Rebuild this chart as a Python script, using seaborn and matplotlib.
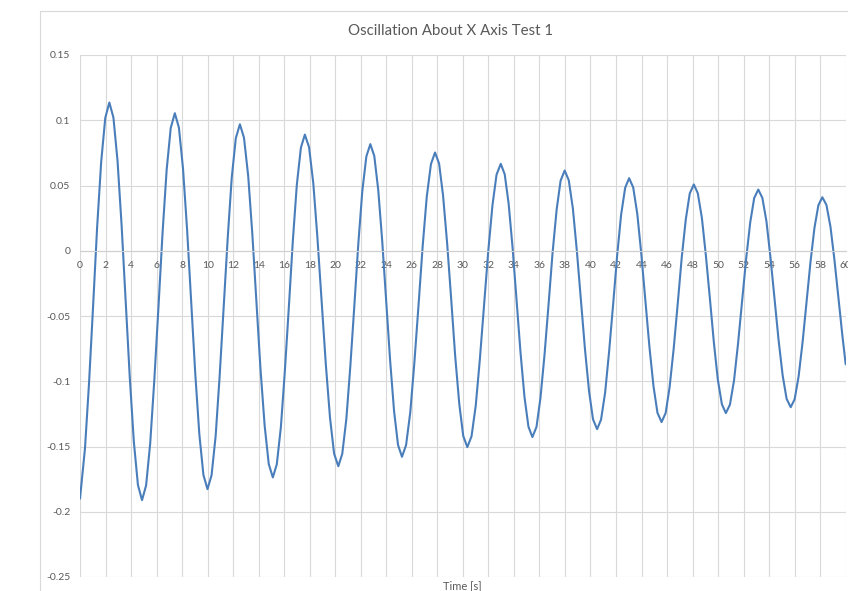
import matplotlib
matplotlib.use("Agg")
import matplotlib.pyplot as plt
import seaborn as sns
import pandas as pd
from matplotlib.lines import Line2D

# --- data (time in s, angle) ---
time_s = [
    0.00, 0.39, 0.71, 1.03, 1.34, 1.66, 1.98, 2.30,
    2.62, 2.94, 3.26, 3.58, 3.90, 4.22, 4.54, 4.86,
    5.18, 5.50, 5.82, 6.15, 6.47, 6.79, 7.11, 7.43,
    7.75, 8.07, 8.39, 8.71, 9.03, 9.35, 9.67, 9.99,
    10.31, 10.63, 10.94, 11.26, 11.58, 11.89, 12.21, 12.53,
    12.85, 13.18, 13.50, 13.82, 14.14, 14.47, 14.79, 15.11,
    15.42, 15.74, 16.05, 16.37, 16.68, 16.99, 17.31, 17.62,
    17.95, 18.28, 18.60, 18.93, 19.26, 19.59, 19.91, 20.24,
    20.55, 20.87, 21.18, 21.50, 21.81, 22.12, 22.44, 22.75,
    23.06, 23.37, 23.68, 23.99, 24.30, 24.61, 24.92, 25.23,
    25.55, 25.88, 26.20, 26.53, 26.85, 27.17, 27.50, 27.82,
    28.14, 28.45, 28.77, 29.09, 29.40, 29.72, 30.03, 30.35,
    30.68, 31.01, 31.33, 31.66, 31.99, 32.32, 32.64, 32.97,
    33.28, 33.59, 33.90, 34.21, 34.52, 34.83, 35.14, 35.45,
    35.77, 36.08, 36.40, 36.72, 37.03, 37.35, 37.66, 37.98,
    38.30, 38.62, 38.93, 39.25, 39.57, 39.89, 40.20, 40.52,
    40.83, 41.15, 41.46, 41.78, 42.09, 42.40, 42.72, 43.03,
    43.35, 43.67, 43.98, 44.30, 44.62, 44.94, 45.25, 45.57,
    45.89, 46.20, 46.52, 46.84, 47.15, 47.47, 47.78, 48.10,
    48.41, 48.73, 49.04, 49.36, 49.67, 49.98, 50.30, 50.61,
    50.93, 51.25, 51.56, 51.88, 52.20, 52.52, 52.83, 53.15,
    53.47, 53.79, 54.10, 54.42, 54.74, 55.06, 55.37, 55.69,
    56.00, 56.31, 56.62, 56.93, 57.24, 57.55, 57.86, 58.17,
    58.49, 58.81, 59.12, 59.44, 59.76, 60.00,
]
angle = [
    -0.1900, -0.1515, -0.1011, -0.0417, 0.0177, 0.0681, 0.1018, 0.1136,
    0.1020, 0.0690, 0.0195, -0.0388, -0.0970, -0.1465, -0.1795, -0.1911,
    -0.1798, -0.1477, -0.0996, -0.0429, 0.0139, 0.0620, 0.0941, 0.1054,
    0.0944, 0.0632, 0.0165, -0.0387, -0.0938, -0.1405, -0.1717, -0.1827,
    -0.1720, -0.1418, -0.0964, -0.0429, 0.0106, 0.0560, 0.0863, 0.0969,
    0.0866, 0.0573, 0.0134, -0.0384, -0.0902, -0.1341, -0.1634, -0.1737,
    -0.1637, -0.1352, -0.0926, -0.0424, 0.0079, 0.0505, 0.0790, 0.0890,
    0.0793, 0.0518, 0.0106, -0.0381, -0.0867, -0.1279, -0.1554, -0.1651,
    -0.1557, -0.1290, -0.0889, -0.0417, 0.0055, 0.0456, 0.0723, 0.0817,
    0.0726, 0.0466, 0.0077, -0.0381, -0.0839, -0.1228, -0.1488, -0.1579,
    -0.1490, -0.1238, -0.0859, -0.0413, 0.0033, 0.0412, 0.0664, 0.0753,
    0.0667, 0.0422, 0.0056, -0.0376, -0.0808, -0.1174, -0.1419, -0.1505,
    -0.1422, -0.1187, -0.0835, -0.0420, -0.0004, 0.0348, 0.0583, 0.0666,
    0.0586, 0.0359, 0.0020, -0.0381, -0.0782, -0.1121, -0.1348, -0.1428,
    -0.1350, -0.1129, -0.0797, -0.0407, -0.0016, 0.0316, 0.0537, 0.0615,
    0.0540, 0.0325, 0.0003, -0.0376, -0.0755, -0.1077, -0.1292, -0.1367,
    -0.1294, -0.1086, -0.0773, -0.0406, -0.0038, 0.0275, 0.0483, 0.0556,
    0.0485, 0.0282, -0.0021, -0.0379, -0.0736, -0.1039, -0.1242, -0.1313,
    -0.1244, -0.1046, -0.0751, -0.0403, -0.0054, 0.0241, 0.0439, 0.0508,
    0.0441, 0.0252, -0.0033, -0.0368, -0.0703, -0.0988, -0.1177, -0.1244,
    -0.1179, -0.0993, -0.0715, -0.0388, -0.0060, 0.0218, 0.0404, 0.0469,
    0.0405, 0.0225, -0.0046, -0.0365, -0.0684, -0.0955, -0.1135, -0.1199,
    -0.1138, -0.0963, -0.0702, -0.0395, -0.0087, 0.0174, 0.0349, 0.0410,
    0.0351, 0.0182, -0.0072, -0.0370, -0.0668, -0.0870,
]

x_ticks = list(range(0, 61, 2))
y_ticks = [-0.25, -0.2, -0.15, -0.1, -0.05, 0, 0.05, 0.1, 0.15]
y_labels = ["-0.25", "-0.2", "-0.15", "-0.1", "-0.05", "0", "0.05", "0.1", "0.15"]

LINE = "#4a7ebb"
GRID = "#d9d9d9"
TEXT = "#595959"

sns.set_theme(style="white")
plt.rcParams['font.family'] = ['Lato', 'DejaVu Sans']

df = pd.DataFrame({"time": time_s, "angle": angle})

W, H = 848, 591
fig = plt.figure(figsize=(W / 100, H / 100), dpi=100)
ax = fig.add_axes([80 / W, 1 - 577 / H, (845.7 - 80) / W, (577 - 55) / H])

sns.lineplot(data=df, x="time", y="angle", ax=ax, color=LINE, linewidth=1.5,
             estimator=None, sort=False, solid_joinstyle="round")

ax.set_xlim(0, 60)
ax.set_ylim(-0.25, 0.15)
ax.set_xticks(x_ticks)
ax.set_xticklabels([str(t) for t in x_ticks])
ax.set_yticks(y_ticks)
ax.set_yticklabels(y_labels)
ax.set_xlabel("")
ax.set_ylabel("")

ax.set_axisbelow(True)
ax.grid(True, color=GRID, linewidth=0.8)
for side in ["top", "right", "left"]:
    ax.spines[side].set_visible(False)
ax.spines["bottom"].set_position(("data", 0))
ax.spines["bottom"].set_color("#cfcfcf")
ax.spines["bottom"].set_linewidth(0.8)

ax.tick_params(axis="both", length=0, labelsize=7.5, colors=TEXT)
ax.tick_params(axis="x", pad=7.5)
ax.tick_params(axis="y", pad=7)

# chart title and axis title, placed like the Excel chart
fig.text(451 / W, 1 - 30.7 / H, "Oscillation About X Axis Test 1",
         ha="center", va="center", fontsize=10.8, color=TEXT)
fig.text(462 / W, 1 - 586 / H, "Time [s]",
         ha="center", va="center", fontsize=8, color=TEXT)

# chart area border (left and top edge visible in the crop)
fig.add_artist(Line2D([40 / W, 40 / W], [0, 1 - 11 / H], transform=fig.transFigure,
                      color=GRID, linewidth=0.8))
fig.add_artist(Line2D([40 / W, 1], [1 - 11 / H, 1 - 11 / H], transform=fig.transFigure,
                      color=GRID, linewidth=0.8))

fig.savefig("out.png", dpi=100)
